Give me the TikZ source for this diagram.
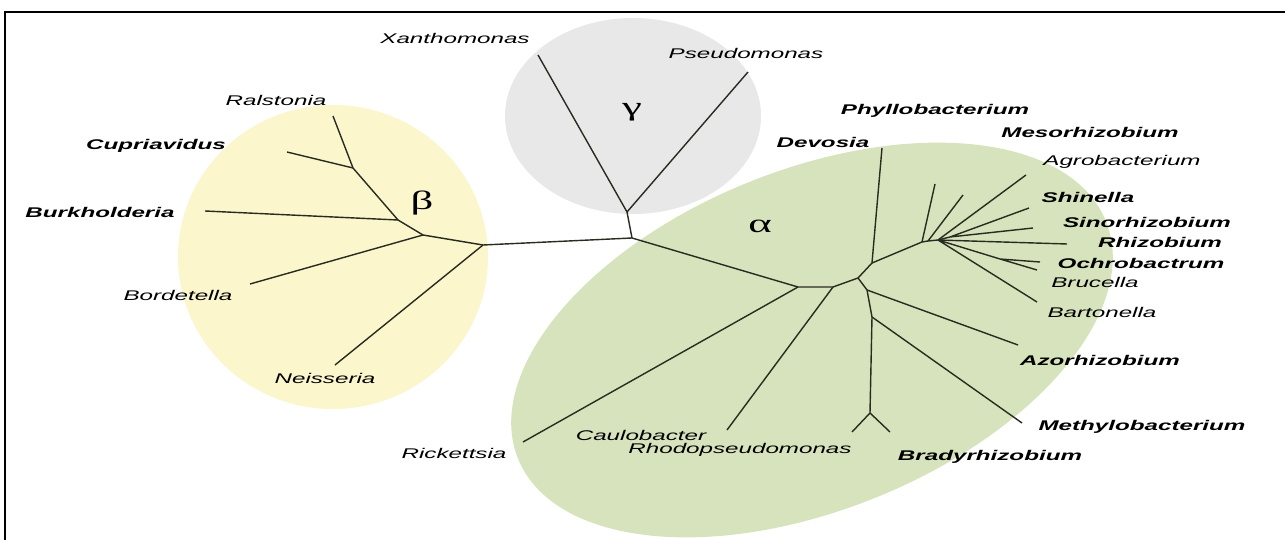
\documentclass[tikz,border=0pt]{standalone}
\usepackage{fontspec}
\setmainfont{Liberation Sans}
\newfontfamily\taxonfont[FakeStretch=1.72]{Liberation Sans}
\newfontfamily\cladefont[FakeStretch=1.7]{Liberation Serif}
\definecolor{betafill}{RGB}{251, 246, 204}
\definecolor{gammafill}{RGB}{232, 232, 232}
\definecolor{alphafill}{RGB}{215, 227, 188}
\definecolor{branch}{RGB}{40, 44, 32}
\usetikzlibrary{positioning}

\tikzset{
    taxon/.style={font=\taxonfont\fontsize{8}{9}\selectfont\itshape, inner sep=0pt},
    taxonb/.style={font=\taxonfont\fontsize{8}{9}\selectfont\bfseries\itshape, inner sep=0pt},
    clade/.style={font=\cladefont\fontsize{15}{16}\selectfont, inner sep=0pt},
    tree/.style={draw=branch, line width=0.8pt, line join=round}
}

\begin{document}
\begin{tikzpicture}[x=0.02cm, y=-0.02cm]
    \useasboundingbox (0,0) rectangle (1285,540);
    \fill[white] (0,0) rectangle (1285,540);

    % clade backgrounds
    \fill[betafill]  (333,257) ellipse [x radius=155, y radius=152];
    \fill[gammafill] (633,116) ellipse [x radius=128, y radius=98];
    \fill[alphafill, rotate around={22:(812,340)}] (812,340) ellipse [x radius=317, y radius=170];

    % junctions and tips
    \coordinate (root) at (632,238);
    \coordinate (gJ) at (627,212);   \coordinate (xanT) at (538,55);  \coordinate (pseT) at (748,72);
    \coordinate (bJ1) at (483,245);  \coordinate (neiT) at (335,365);
    \coordinate (bJ2) at (423,235);  \coordinate (borT) at (250,284);
    \coordinate (bJ3) at (398,220);  \coordinate (burT) at (205,211);
    \coordinate (bJ4) at (353,168);  \coordinate (cupT) at (287,152); \coordinate (ralT) at (333,116);
    \coordinate (aJ1) at (798,287);  \coordinate (ricT) at (523,442);
    \coordinate (aJ2) at (833,287);  \coordinate (cauT) at (727,430);
    \coordinate (aJ3) at (858,278);
    \coordinate (aJ4) at (872,263);  \coordinate (devT) at (882,148);
    \coordinate (aJ5) at (867,290);  \coordinate (azoT) at (1018,345);
    \coordinate (aJ6) at (872,317);  \coordinate (metT) at (1022,423);
    \coordinate (aJ7) at (870,413);  \coordinate (rhoT) at (852,432); \coordinate (braT) at (890,432);
    \coordinate (rJ1) at (922,242);  \coordinate (r1T) at (935,184);
    \coordinate (rJ2) at (928,241);  \coordinate (r2T) at (963,195);
    \coordinate (rJ3) at (938,240);  \coordinate (agrT) at (1026,175);
    \coordinate (rJ4) at (950,237);  \coordinate (shiT) at (1029,208); \coordinate (sinT) at (1033,228);
    \coordinate (rhiT) at (1067,244);
    \coordinate (rJ5) at (1000,259); \coordinate (ochT) at (1040,262); \coordinate (bruT) at (1037,270);
    \coordinate (barT) at (1037,302);

    % gamma
    \draw[tree] (root) -- (gJ) (gJ) -- (xanT) (gJ) -- (pseT);
    % beta
    \draw[tree] (root) -- (bJ1) -- (bJ2) -- (bJ3) -- (bJ4) -- (ralT);
    \draw[tree] (bJ4) -- (cupT) (bJ3) -- (burT) (bJ2) -- (borT) (bJ1) -- (neiT);
    % alpha
    \draw[tree] (root) -- (aJ1) -- (aJ2) -- (aJ3) -- (aJ4) -- (devT);
    \draw[tree] (aJ1) -- (ricT) (aJ2) -- (cauT);
    \draw[tree] (aJ3) -- (aJ5) -- (aJ6) -- (aJ7) -- (rhoT) (aJ7) -- (braT);
    \draw[tree] (aJ5) -- (azoT) (aJ6) -- (metT);
    \draw[tree] (aJ4) -- (rJ1) -- (rJ2) -- (rJ3) -- (rhiT);
    \draw[tree] (rJ1) -- (r1T) (rJ2) -- (r2T) (rJ3) -- (agrT);
    \draw[tree] (rJ3) -- (rJ4) -- (shiT) (rJ4) -- (sinT);
    \draw[tree] (rJ3) -- (rJ5) -- (bruT) (rJ5) -- (ochT) (rJ3) -- (barT);

    % clade letters
    \node[clade] (beta)  at (422,203) {β};
    \node[clade] (gamma) at (632,112) {γ};
    \node[clade] (alpha) at (760,226) {α};

    % taxa
    \node[taxon]  (xan) at (455,38)   {Xanthomonas};
    \node[taxon]  (pse) at (746,53)   {Pseudomonas};
    \node[taxon]  (ral) at (276,100)  {Ralstonia};
    \node[taxonb] (cup) at (156,146)  {Cupriavidus};
    \node[taxonb] (bur) at (100,212)  {Burkholderia};
    \node[taxon]  (bor) at (178,295)  {Bordetella};
    \node[taxon]  (nei) at (325,378)  {Neisseria};
    \node[taxon]  (ric) at (454,453)  {Rickettsia};
    \node[taxon]  (cau) at (641,435)  {Caulobacter};
    \node[taxon]  (rho) at (740,450)  {Rhodopseudomonas};
    \node[taxonb] (bra) at (990,457)  {Bradyrhizobium};
    \node[taxonb] (met) at (1142,427) {Methylobacterium};
    \node[taxonb] (azo) at (1100,360) {Azorhizobium};
    \node[taxon]  (bar) at (1102,312) {Bartonella};
    \node[taxon]  (bru) at (1095,282) {Brucella};
    \node[taxonb] (och) at (1141,263) {Ochrobactrum};
    \node[taxonb] (rhi) at (1160,242) {Rhizobium};
    \node[taxonb] (sin) at (1147,222) {Sinorhizobium};
    \node[taxonb] (shi) at (1088,197) {Shinella};
    \node[taxon]  (agr) at (1122,162) {Agrobacterium};
    \node[taxonb] (mes) at (1090,132) {Mesorhizobium};
    \node[taxonb] (phy) at (935,111)  {Phyllobacterium};
    \node[taxonb] (dev) at (823,142)  {Devosia};

    % frame
    \draw[line width=1.7pt] (5,540) -- (5,12) -- (1285,12);
\end{tikzpicture}
\end{document}
